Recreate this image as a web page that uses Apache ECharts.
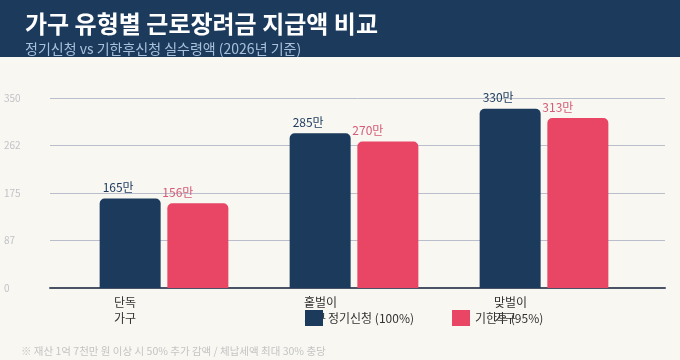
<!DOCTYPE html>
<html>
<head>
<meta charset="utf-8">
<script src="https://cdn.jsdelivr.net/npm/echarts@6/dist/echarts.min.js"></script>
<style>
  html, body { margin: 0; padding: 0; background: #f8f7f2; }
  #chart { width: 680px; height: 360px; }
</style>
</head>
<body>
<div id="chart"></div>
<script>
// data
var categories = ['단독\n가구', '홑벌이\n가구', '맞벌이\n가구'];
var regular = [165, 285, 330];
var late = [156, 270, 313];
var seriesNames = ['정기신청 (100%)', '기한후 (95%)'];
var yMax = 350;
var yStep = 87.5;

var font = "'Noto Sans CJK KR', 'Noto Sans', sans-serif";
var navy = '#1b3a5c';
var pink = '#e84664';

var chart = echarts.init(document.getElementById('chart'));

var hiddenY = function (i) {
  return { type: 'value', gridIndex: i, min: 0, max: yMax, interval: yStep, show: false };
};

var option = {
  backgroundColor: '#f8f7f2',
  textStyle: { fontFamily: font },
  graphic: [
    { type: 'rect', left: 0, top: 0, shape: { width: 680, height: 57 }, style: { fill: navy }, z: -1 }
  ],
  title: [
    {
      text: '가구 유형별 근로장려금 지급액 비교',
      left: 20, top: 7,
      textStyle: { color: '#ffffff', fontSize: 24, fontWeight: 'bold', fontFamily: font }
    },
    {
      text: '정기신청 vs 기한후신청 실수령액 (2026년 기준)',
      left: 20, top: 37,
      textStyle: { color: '#a9c1dd', fontSize: 14, fontWeight: 'normal', fontFamily: font }
    },
    {
      text: '※ 재산 1억 7천만 원 이상 시 50% 추가 감액 / 체납세액 최대 30% 충당',
      left: 16, top: 341,
      textStyle: { color: '#c4c4c4', fontSize: 10.5, fontWeight: 'normal', fontFamily: font }
    }
  ],
  legend: {
    left: 300, top: 305,
    icon: 'rect',
    itemWidth: 18, itemHeight: 16, itemGap: 38,
    textStyle: { color: '#333333', fontSize: 12, fontFamily: font },
    data: seriesNames
  },
  grid: [
    { left: 50, right: 15, top: 98, bottom: 72 },
    { left: 69, width: 570, top: 98, bottom: 72 },
    { left: 19, width: 570, top: 98, bottom: 72 }
  ],
  xAxis: [
    {
      type: 'category', gridIndex: 0, data: ['', '', ''],
      axisLine: { lineStyle: { color: '#4a5266', width: 2 } },
      axisTick: { show: false }, axisLabel: { show: false }
    },
    { type: 'category', gridIndex: 1, data: categories, show: false },
    {
      type: 'category', gridIndex: 2, data: categories,
      axisLine: { show: false }, axisTick: { show: false },
      axisLabel: { align: 'left', margin: 6, color: '#333333', fontSize: 12, lineHeight: 16, fontFamily: font }
    }
  ],
  yAxis: [
    {
      type: 'value', gridIndex: 0, min: 0, max: yMax, interval: yStep,
      axisLine: { show: false }, axisTick: { show: false },
      splitLine: { lineStyle: { color: '#b9bdcc', width: 1 } },
      axisLabel: {
        align: 'left', margin: 46, color: '#c2c2c8', fontSize: 10,
        formatter: function (v) { return Math.floor(v); }
      }
    },
    hiddenY(1),
    hiddenY(2)
  ],
  series: [
    {
      name: seriesNames[0], type: 'bar', xAxisIndex: 1, yAxisIndex: 1,
      data: regular, barWidth: 61, barGap: '11%',
      itemStyle: { color: navy, borderRadius: [5, 5, 0, 0] },
      label: { show: true, position: 'top', offset: [-12, 0], color: navy, fontSize: 12, formatter: '{c}만' }
    },
    {
      name: seriesNames[1], type: 'bar', xAxisIndex: 1, yAxisIndex: 1,
      data: late, barWidth: 61,
      itemStyle: { color: pink, borderRadius: [5, 5, 0, 0] },
      label: { show: true, position: 'top', offset: [-20, 0], color: '#d35c78', fontSize: 12, formatter: '{c}만' }
    }
  ]
};

chart.setOption(option);
</script>
</body>
</html>
